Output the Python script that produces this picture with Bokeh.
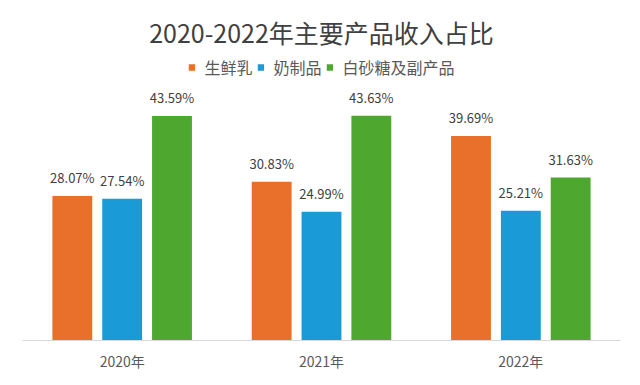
from bokeh.plotting import figure
from bokeh.models import ColumnDataSource, Range1d, FactorRange, Legend, LegendItem
from bokeh.transform import dodge
from bokeh.core.properties import value
from bokeh.embed import file_html
from bokeh.resources import INLINE

# ---- data ----
years = ["2020年", "2021年", "2022年"]
series_names = ["生鲜乳", "奶制品", "白砂糖及副产品"]
fresh_milk = [28.07, 30.83, 39.69]
dairy_products = [27.54, 24.99, 25.21]
sugar_and_by = [43.59, 43.63, 31.63]
title_text = "2020-2022年主要产品收入占比"

colors = ["#E8702A", "#1A9AD6", "#4EA72E"]
offsets = [-0.25, 0.0, 0.25]
FONT = "Noto Sans CJK SC"

p = figure(width=640, height=385, output_backend="svg", toolbar_location=None,
           x_range=FactorRange(*years), y_range=Range1d(0, 66.0),
           y_axis_location=None, min_border_left=22, min_border_right=20,
           min_border_top=0, min_border_bottom=45)
p.outline_line_color = None
p.xgrid.grid_line_color = None
p.ygrid.grid_line_color = None
p.background_fill_color = "white"
p.border_fill_color = "white"

renderers = []
for name, vals, col, off in zip(series_names, [fresh_milk, dairy_products, sugar_and_by], colors, offsets):
    src = ColumnDataSource(dict(year=years, v=vals, lab=[f"{x:.2f}%" for x in vals]))
    r = p.vbar(x=dodge("year", off, range=p.x_range), top="v", width=0.2, bottom=0,
               source=src, fill_color=col, line_color=None)
    renderers.append(r)
    p.text(x=dodge("year", off, range=p.x_range), y="v", text="lab", source=src,
           text_align="center", text_baseline="bottom", y_offset=-9,
           text_font=value(FONT), text_font_size="13px", text_color="#404040")

# title drawn at the centre of the chart
tsrc = ColumnDataSource(dict(x=[years[1]], y=[59.8], t=[title_text]))
p.text(x="x", y="y", text="t", source=tsrc, text_align="center", text_baseline="middle",
       text_font=value(FONT), text_font_size="25px", text_color="#404040")

legend = Legend(items=[LegendItem(label=n, renderers=[r]) for n, r in zip(series_names, renderers)],
                orientation="horizontal", location="top_center", margin=55,
                padding=0, spacing=4, label_standoff=9, glyph_width=8, glyph_height=8,
                label_height=16, label_text_font=FONT, label_text_font_size="16px",
                label_text_color="#595959", border_line_color=None,
                background_fill_alpha=0)
p.add_layout(legend, "center")

xa = p.xaxis[0]
xa.axis_line_color = "#D9D9D9"
xa.axis_line_width = 1
xa.major_tick_line_color = None
xa.minor_tick_line_color = None
xa.major_label_standoff = 4
xa.major_label_text_font = FONT
xa.major_label_text_font_size = "14px"
xa.major_label_text_color = "#595959"

open("out.html", "w").write(file_html(p, INLINE))
